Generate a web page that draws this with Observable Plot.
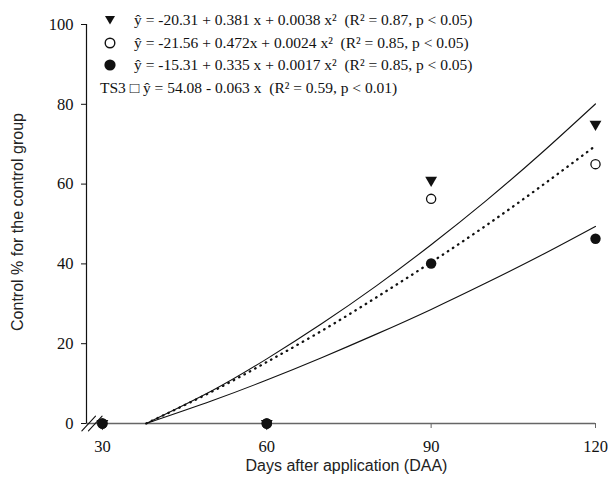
<!DOCTYPE html>
<html>
<head>
<meta charset="utf-8">
<script src="https://cdn.jsdelivr.net/npm/d3@7"></script>
<script src="https://cdn.jsdelivr.net/npm/@observablehq/plot@0.6"></script>
<style>
  body { margin: 0; background: #fff; }
  #wrap { position: relative; width: 611px; height: 486px; }
  .title { position: absolute; font-family: "Liberation Sans", Arial, sans-serif; font-size: 16px; color: #222; white-space: nowrap; }
  #xtitle { left: 0; width: 611px; text-align: center; top: 457px; padding-left: 82px; box-sizing: border-box; }
  #ytitle { left: 18px; top: 222px; transform: translate(-50%, -50%) rotate(-90deg); }
  #legend { position: absolute; left: 98px; top: 9px; font-family: "Liberation Serif", "Times New Roman", serif; font-size: 15.5px; color: #111; }
  .row { height: 22.5px; line-height: 22.5px; white-space: pre; display: flex; align-items: center; }
  .row svg { flex: none; }
</style>
</head>
<body>
<div id="wrap"></div>
<script>
// Days after application and observed control (%) for each treatment
const days = [30, 60, 90, 120];
const triangleVals = [0, 0, 61, 75];
const openVals = [0, 0, 56.3, 65];
const filledVals = [0, 0, 40.1, 46.3];

// Fitted response curves, read along the x range where they are drawn
const curveDays = [38, 50, 60, 70, 80, 90, 100, 110, 120];
const upperFit = [0, 8.2, 16.2, 25.0, 34.5, 44.8, 55.8, 67.6, 80.1];
const dottedFit = [0, 8.0, 15.4, 23.2, 31.6, 40.4, 49.6, 59.4, 69.6];
const lowerFit = [0, 5.7, 10.9, 16.5, 22.4, 28.6, 35.2, 42.1, 49.4];

// Axis ticks and break marks on the x axis
const xTicks = [30, 60, 90, 120];
const yTicks = [0, 20, 40, 60, 80, 100];
const xDomain = [27.1, 120];
const breakMarks = [27.5, 28.7];

// Legend entries
const legendSymbols = ["triangle", "open", "filled", "square"];
const legendLabels = [
  "ŷ = -20.31 + 0.381 x + 0.0038 x²  (R² = 0.87, p < 0.05)",
  "ŷ = -21.56 + 0.472x + 0.0024 x²  (R² = 0.85, p < 0.05)",
  "ŷ = -15.31 + 0.335 x + 0.0017 x²  (R² = 0.85, p < 0.05)",
  "ŷ = 54.08 - 0.063 x  (R² = 0.59, p < 0.01)"
];

const pts = (ys) => days.map((d, i) => ({x: d, y: ys[i]}));
const fit = (ys) => curveDays.map((d, i) => ({x: d, y: ys[i]}));

const slash = {
  draw(context, l) {
    context.moveTo(0, 0);
    context.lineTo(0, -l);
  }
};

const serif = "Liberation Serif";

const chart = Plot.plot({
  width: 611,
  height: 486,
  marginLeft: 86,
  marginRight: 16,
  marginTop: 24,
  marginBottom: 63,
  style: {fontFamily: serif, fontSize: "16px", color: "#111", background: "#fff"},
  x: {domain: xDomain},
  y: {domain: [0, 100]},
  marks: [
    Plot.axisX(xTicks, {tickSize: 5, tickPadding: 12, label: null, stroke: "#666", fill: "#111", fontFamily: serif, fontSize: 16.5}),
    Plot.axisY(yTicks, {tickSize: 5, tickPadding: 8, label: null, stroke: "#111", fill: "#111", fontFamily: serif, fontSize: 16.5}),
    Plot.ruleY([0], {stroke: "#666", strokeWidth: 1.6}),
    Plot.ruleX([xDomain[0]], {y1: 0, y2: 100, stroke: "#111", strokeWidth: 1.2}),
    Plot.vector(breakMarks, {x: d => d, y: 0, length: 20, rotate: 43, anchor: "middle", shape: slash, stroke: "#111", strokeWidth: 1.1}),
    Plot.line(fit(upperFit), {x: "x", y: "y", curve: "natural", stroke: "#111", strokeWidth: 1.1}),
    Plot.line(fit(lowerFit), {x: "x", y: "y", curve: "natural", stroke: "#111", strokeWidth: 1.1}),
    Plot.line(fit(dottedFit), {x: "x", y: "y", curve: "natural", stroke: "#111", strokeWidth: 2.3, strokeDasharray: "0.5,5.6", strokeLinecap: "round"}),
    Plot.dot(pts(openVals), {x: "x", y: "y", r: 4.6, fill: "#fff", stroke: "#111", strokeWidth: 1.3}),
    Plot.dot(pts(filledVals), {x: "x", y: "y", r: 5.2, fill: "#111", stroke: "none"}),
    Plot.dot(pts(triangleVals), {x: "x", y: "y", r: 4.4, symbol: "triangle", rotate: 180, fill: "#111", stroke: "none"})
  ]
});

const wrap = document.getElementById("wrap");
wrap.appendChild(chart);

const xt = document.createElement("div");
xt.className = "title"; xt.id = "xtitle";
xt.textContent = "Days after application (DAA)";
wrap.appendChild(xt);

const yt = document.createElement("div");
yt.className = "title"; yt.id = "ytitle";
yt.textContent = "Control % for the control group";
wrap.appendChild(yt);

// Legend rows: symbol followed by the fitted equation
const legend = document.createElement("div");
legend.id = "legend";
const symbolSvg = {
  triangle: '<svg width="24" height="14" viewBox="0 0 24 14"><polygon points="7,3 17,3 12,11.5" fill="#111"/></svg>',
  open: '<svg width="24" height="14" viewBox="0 0 24 14"><circle cx="12" cy="7" r="4.8" fill="#fff" stroke="#111" stroke-width="1.4"/></svg>',
  filled: '<svg width="24" height="14" viewBox="0 0 24 14"><circle cx="12" cy="7" r="5.6" fill="#111"/></svg>'
};
legendSymbols.forEach((s, i) => {
  const row = document.createElement("div");
  row.className = "row";
  if (s === "square") {
    row.textContent = "TS3 □ " + legendLabels[i];
    row.style.marginLeft = "2px";
  } else {
    row.innerHTML = symbolSvg[s] + '<span style="margin-left:12px"></span>';
    row.lastChild.textContent = legendLabels[i];
  }
  legend.appendChild(row);
});
wrap.appendChild(legend);
</script>
</body>
</html>
